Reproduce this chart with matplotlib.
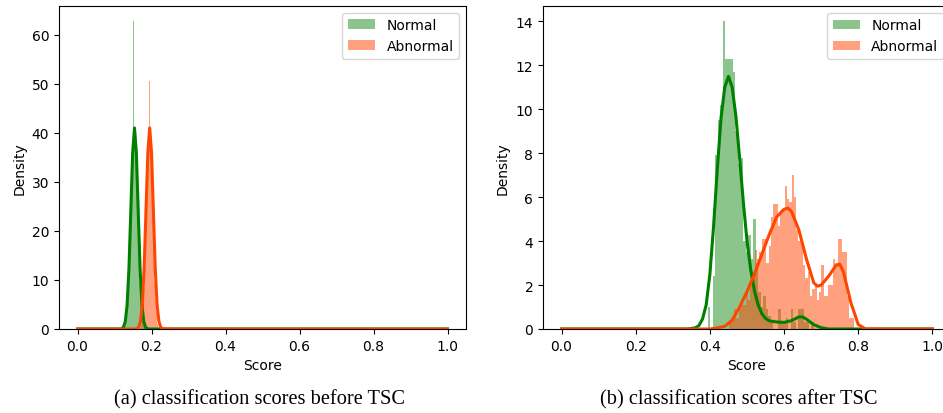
import matplotlib.pyplot as plt
import numpy as np

# ---- panel (a): before TSC ----
a_norm_w = 0.002
a_norm_start = 0.125
a_norm_hist = [0.5, 1.2, 2.0, 5.5, 4.5, 8.0, 12.0, 16.5, 22.0, 27.5, 33.0, 38.0, 52.0, 62.8, 40.0,
               38.5, 34.0, 29.0, 24.0, 18.5, 13.5, 9.5, 6.5, 4.0, 2.5, 1.5, 0.8, 0.4, 0.2, 0.1]
a_abn_w = 0.002
a_abn_start = 0.170
a_abn_hist = [0.3, 0.8, 1.5, 3.0, 5.0, 8.5, 13.0, 18.5, 25.0, 31.0, 36.0, 40.0, 50.5, 40.5, 38.0,
              33.0, 27.0, 20.5, 14.5, 9.5, 6.0, 3.5, 2.0, 1.0, 0.4]

a_norm_kde_x = [0.0, 0.114, 0.119, 0.124, 0.129, 0.134, 0.139, 0.144, 0.149, 0.154, 0.159, 0.164,
                0.169, 0.174, 0.179, 0.184, 0.189, 0.194, 1.0]
a_norm_kde_y = [0.0, 0.0, 0.06, 0.34, 1.5, 4.9, 12.4, 24.1, 35.9, 41.0, 35.9, 24.1,
                12.4, 4.9, 1.5, 0.34, 0.06, 0.0, 0.0]
a_abn_kde_x = [0.0, 0.155, 0.160, 0.165, 0.170, 0.175, 0.180, 0.185, 0.190, 0.195, 0.200, 0.205,
               0.210, 0.215, 0.220, 0.225, 0.230, 0.235, 1.0]
a_abn_kde_y = [0.0, 0.0, 0.06, 0.34, 1.5, 4.9, 12.4, 24.1, 35.9, 41.0, 35.9, 24.1,
               12.4, 4.9, 1.5, 0.34, 0.06, 0.0, 0.0]

# ---- panel (b): after TSC ----
b_norm_w = 0.0068
b_norm_start = 0.394
b_norm_hist = [1.0, 0.0, 2.4, 7.9, 9.5, 10.2, 14.0, 12.3, 12.3, 12.3, 11.7, 9.0, 7.5, 7.8, 4.0,
               3.5, 4.3, 3.2, 5.0, 3.0, 1.7, 1.0, 1.5, 0.9, 0.6, 0.3, 0.0, 0.0, 0.9, 0.3,
               0.3, 0.5, 0.0, 0.9, 0.3, 0.0, 0.9, 0.9, 0.3, 0.3, 0.0, 0.3]
b_abn_w = 0.0062
b_abn_start = 0.4526
b_abn_hist = [0.3, 0.5, 0.9, 0.5, 1.0, 1.3, 1.1, 1.6, 1.3, 2.0, 2.4, 3.6, 3.2, 3.5, 4.1,
              4.1, 3.0, 3.8, 5.1, 5.7, 5.7, 4.7, 5.4, 5.4, 6.5, 5.9, 5.8, 7.0, 6.0, 4.5,
              4.0, 3.9, 2.9, 2.3, 2.6, 1.5, 1.8, 2.0, 1.3, 1.7, 2.9, 1.5, 1.5, 2.0, 2.0,
              3.2, 3.0, 4.1, 4.1, 3.5, 3.5, 1.5, 0.5, 0.5]

b_norm_kde_x = [0.0, 0.34, 0.36, 0.37, 0.38, 0.39, 0.40, 0.41, 0.42, 0.43, 0.44, 0.45, 0.46, 0.47,
                0.48, 0.49, 0.50, 0.51, 0.52, 0.53, 0.54, 0.55, 0.56, 0.58, 0.60, 0.62, 0.64,
                0.65, 0.66, 0.68, 0.70, 0.72, 1.0]
b_norm_kde_y = [0.0, 0.0, 0.05, 0.15, 0.45, 1.1, 2.5, 4.7, 7.3, 9.6, 11.0, 11.5, 11.0, 9.7,
                7.8, 5.8, 4.0, 2.7, 1.75, 1.1, 0.7, 0.48, 0.37, 0.32, 0.3, 0.38, 0.55,
                0.55, 0.45, 0.2, 0.06, 0.0, 0.0]
b_abn_kde_x = [0.0, 0.40, 0.42, 0.44, 0.46, 0.48, 0.50, 0.52, 0.54, 0.56, 0.58, 0.60, 0.61, 0.62,
               0.64, 0.66, 0.68, 0.69, 0.70, 0.72, 0.74, 0.75, 0.76, 0.78, 0.80, 0.82, 1.0]
b_abn_kde_y = [0.0, 0.0, 0.05, 0.12, 0.4, 1.0, 1.7, 2.5, 3.4, 4.3, 5.1, 5.45, 5.5, 5.35,
               4.5, 3.2, 2.1, 1.95, 2.0, 2.4, 2.9, 2.95, 2.6, 1.2, 0.2, 0.0, 0.0]

captions = ["(a) classification scores before TSC", "(b) classification scores after TSC"]


def draw(ax, nw, ns, nh, aw, as_, ah, nkx, nky, akx, aky):
    ne = ns + nw * np.arange(len(nh))
    ae = as_ + aw * np.arange(len(ah))
    ax.bar(ne, nh, width=nw, align="edge", color="green", alpha=0.45, linewidth=0, label="Normal")
    ax.bar(ae, ah, width=aw, align="edge", color="orangered", alpha=0.5, linewidth=0, label="Abnormal")
    ax.plot(nkx, nky, color="green", lw=2.2)
    ax.plot(akx, aky, color="orangered", lw=2.2)
    ax.set_xlim(-0.05, 1.05)
    ax.set_xlabel("Score", fontsize=10)
    ax.set_ylabel("Density", fontsize=10)
    ax.tick_params(labelsize=10)
    ax.legend(loc="upper right", fontsize=10)


fig = plt.figure(figsize=(9.43, 4.14), dpi=100)
ax1 = fig.add_axes([0.0626, 0.2029, 0.4316, 0.7810])
ax2 = fig.add_axes([0.5758, 0.2029, 0.4327, 0.7802])

draw(ax1, a_norm_w, a_norm_start, a_norm_hist, a_abn_w, a_abn_start, a_abn_hist,
     a_norm_kde_x, a_norm_kde_y, a_abn_kde_x, a_abn_kde_y)
draw(ax2, b_norm_w, b_norm_start, b_norm_hist, b_abn_w, b_abn_start, b_abn_hist,
     b_norm_kde_x, b_norm_kde_y, b_abn_kde_x, b_abn_kde_y)

fig.text(0.2754, 0.034, captions[0], ha="center", va="center",
         family="Liberation Serif", fontsize=14.7)
fig.text(0.783, 0.034, captions[1], ha="center", va="center",
         family="Liberation Serif", fontsize=14.7)

fig.savefig("out.png", dpi=100)
